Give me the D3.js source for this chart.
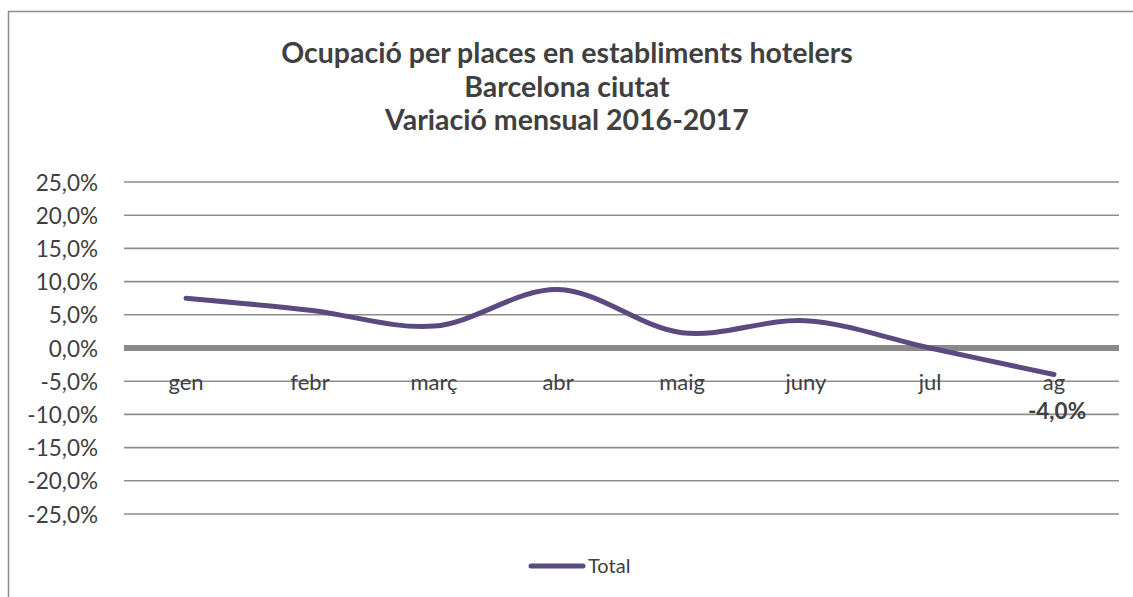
<!DOCTYPE html>
<html>
<head>
<meta charset="utf-8">
<script src="https://cdn.jsdelivr.net/npm/d3@7"></script>
<style>
    body { margin: 0; background: #fff; }
    text { font-family: Lato, "Open Sans", sans-serif; fill: #404040; }
</style>
</head>
<body>
<div id="chart"></div>
<script>
// Data
const months = ["gen", "febr", "març", "abr", "maig", "juny", "jul", "ag"];
const totalValues = [7.5, 5.7, 3.3, 8.8, 2.3, 4.1, 0.0, -4.0];
const yTicks = [25, 20, 15, 10, 5, 0, -5, -10, -15, -20, -25];
const titleLines = [
    "Ocupació per places en establiments hotelers",
    "Barcelona ciutat",
    "Variació mensual 2016-2017"
];
const seriesName = "Total";

const WIDTH = 1133, HEIGHT = 597;
const MARGIN = { LEFT: 124, RIGHT: 14, TOP: 182, BOTTOM: 83 };

const pct = d => d3.format(".1f")(d).replace(".", ",").replace("−", "-") + "%";

const svg = d3.select("#chart").append("svg")
    .attr("width", WIDTH)
    .attr("height", HEIGHT);

// outer chart frame (runs off the right / bottom edges)
svg.append("rect")
    .attr("x", 8.5).attr("y", 11.5)
    .attr("width", WIDTH + 20).attr("height", HEIGHT + 20)
    .attr("fill", "none")
    .attr("stroke", "#8c8c8c")
    .attr("stroke-width", 1.5);

// title
svg.append("g").selectAll("text")
    .data(titleLines)
    .join("text")
    .attr("x", 567)
    .attr("y", (d, i) => 63 + i * 33.5)
    .attr("text-anchor", "middle")
    .style("font-size", "28.5px")
    .style("font-weight", "bold")
    .text(d => d);

const x = d3.scaleBand()
    .domain(months)
    .range([MARGIN.LEFT, 1116]);

const y = d3.scaleLinear()
    .domain([-25, 25])
    .range([514, 182]);

// gridlines
svg.append("g").selectAll("line")
    .data(yTicks.filter(d => d !== 0))
    .join("line")
    .attr("x1", MARGIN.LEFT).attr("x2", 1119)
    .attr("y1", d => y(d)).attr("y2", d => y(d))
    .attr("stroke", "#8e8e8e")
    .attr("stroke-width", 1.6);

// y axis labels
const yAxis = d3.axisLeft(y)
    .tickValues(yTicks)
    .tickSize(0)
    .tickPadding(0)
    .tickFormat(pct);

svg.append("g")
    .attr("transform", "translate(98,0)")
    .call(yAxis)
    .call(g => g.select(".domain").remove())
    .call(g => g.selectAll("text")
        .attr("dy", "0.36em")
        .style("font-size", "22.5px")
        .style("font-family", "Lato, sans-serif")
        .attr("fill", "#404040"));

// thick zero axis line
svg.append("line")
    .attr("x1", MARGIN.LEFT).attr("x2", 1119)
    .attr("y1", y(0)).attr("y2", y(0))
    .attr("stroke", "#8a8a8a")
    .attr("stroke-width", 6);

// category labels (sit below the zero line)
const xAxis = d3.axisBottom(x).tickSize(0).tickPadding(0);
svg.append("g")
    .attr("transform", `translate(0, ${y(-5)})`)
    .call(xAxis)
    .call(g => g.select(".domain").remove())
    .call(g => g.selectAll("text")
        .attr("dy", "0.4em")
        .style("font-size", "22px")
        .style("font-family", "Lato, sans-serif")
        .attr("fill", "#404040"));

// smoothed series line
const points = months.map((m, i) => ({ month: m, value: totalValues[i] }));
const line = d3.line()
    .x(d => x(d.month) + x.bandwidth() / 2)
    .y(d => y(d.value))
    .curve(d3.curveCatmullRom.alpha(0.5));

svg.append("path")
    .datum(points)
    .attr("d", line)
    .attr("fill", "none")
    .attr("stroke", "#5b4a7f")
    .attr("stroke-width", 5)
    .attr("stroke-linecap", "round");

// data label on the last point
const last = points[points.length - 1];
svg.append("text")
    .attr("x", x(last.month) + x.bandwidth() / 2 + 3)
    .attr("y", y(last.value) + 44)
    .attr("text-anchor", "middle")
    .style("font-size", "22.5px")
    .style("font-weight", "bold")
    .text(pct(last.value));

// legend
svg.append("line")
    .attr("x1", 531).attr("x2", 583)
    .attr("y1", 566).attr("y2", 566)
    .attr("stroke", "#5b4a7f")
    .attr("stroke-width", 5)
    .attr("stroke-linecap", "round");
svg.append("text")
    .attr("x", 588)
    .attr("y", 573)
    .style("font-size", "20px")
    .text(seriesName);
</script>
</body>
</html>
